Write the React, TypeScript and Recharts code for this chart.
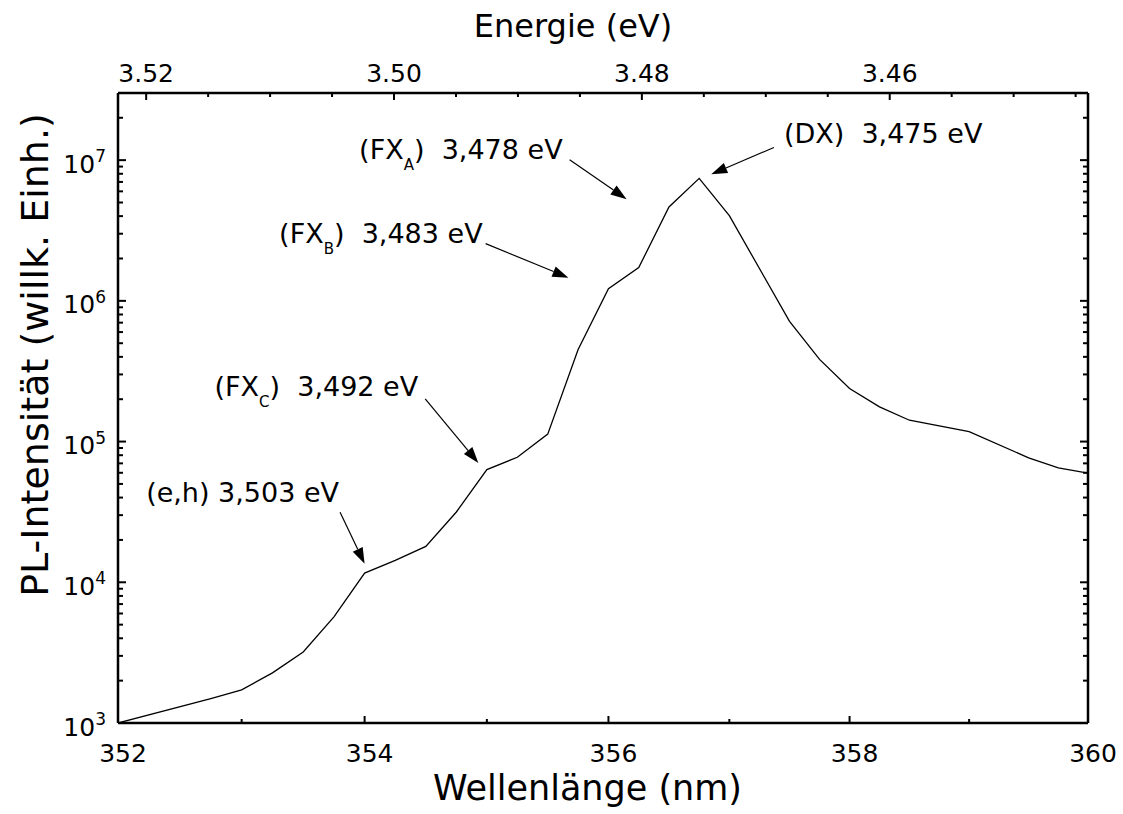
import React from 'react';
import { LineChart, Line, XAxis, YAxis, ReferenceLine } from 'recharts';

// Measured spectrum (wavelength in nm, PL intensity in arb. units)
const wavelengths = [
  352, 352.75, 353, 353.25, 353.5, 353.75, 354, 354.25, 354.5, 354.75,
  355, 355.25, 355.5, 355.75, 356, 356.25, 356.5, 356.75, 357, 357.5,
  357.75, 358, 358.25, 358.5, 359, 359.5, 359.75, 360,
];
const intensities = [
  1000, 1490, 1718, 2270, 3200, 5680, 11630, 14300, 17980, 31600,
  63200, 77300, 113000, 451600, 1221000, 1723000, 4650000, 7420000, 4030000, 715000,
  384000, 238000, 176600, 141800, 117800, 76600, 65000, 59700,
];

// axis ticks
const wavelengthTicks = [352, 353, 354, 355, 356, 357, 358, 359, 360];
const wavelengthLabels = [352, 354, 356, 358, 360];
const energyTicks = [3.445, 3.45, 3.455, 3.46, 3.465, 3.47, 3.475, 3.48, 3.485, 3.49, 3.495, 3.5, 3.505, 3.51, 3.515, 3.52];
const energyLabels = [3.46, 3.48, 3.5, 3.52];
const decades = [1e3, 1e4, 1e5, 1e6, 1e7];
const intensityDomain = [1e3, 3e7];

// peak annotations: tail and tip of each arrow (wavelength, intensity)
const annPrefix = ['(e,h) 3,503 eV', '(FX', '(FX', '(FX', '(DX)  3,475 eV'];
const annSub = ['', 'C', 'B', 'A', ''];
const annSuffix = ['', ')  3,492 eV', ')  3,483 eV', ')  3,478 eV', ''];
const annTailNm = [353.8, 354.495, 354.99, 355.68, 357.37];
const annTailI = [31400, 201400, 2550000, 10050000, 12300000];
const annTipNm = [354.0, 354.93, 355.67, 356.15, 356.85];
const annTipI = [13540, 70500, 1462000, 5280000, 7940000];

const HC = 1239.84;
const toEnergy = (nm: number) => HC / nm;

const FONT = 'DejaVu Sans';

const rows = wavelengths.map((w, i) => ({ energy: toEnergy(w), intensity: intensities[i] }));
const energyDomain = [toEnergy(360), toEnergy(352)];

const yTicks: number[] = [];
decades.forEach((d, i) => {
  yTicks.push(d);
  if (i < decades.length - 1) for (let k = 2; k <= 9; k++) yTicks.push(d * k);
});
yTicks.push(2e7, 3e7);

const isDecade = (v: number) => Math.abs(Math.log10(v) - Math.round(Math.log10(v))) < 1e-9;

const annText = [
  { anchor: 'end', dx: -1, dy: -10 },
  { anchor: 'end', dx: -7, dy: -3 },
  { anchor: 'end', dx: -3, dy: -1 },
  { anchor: 'end', dx: -7, dy: -1 },
  { anchor: 'start', dx: 10, dy: -4 },
];

const BottomTick = (props: any) => {
  const { x, y, payload } = props;
  const nm = Math.round(HC / payload.value);
  const major = wavelengthLabels.includes(nm);
  return (
    <g>
      <line x1={x} y1={y} x2={x} y2={y - (major ? 7 : 4)} stroke="#000" strokeWidth={2} />
      {major && (
        <text x={x + 5} y={y + 39} textAnchor="middle" fontSize={25} fontFamily={FONT} fill="#000">
          {nm}
        </text>
      )}
    </g>
  );
};

const TopTick = (props: any) => {
  const { x, y, payload } = props;
  const v = payload.value;
  const major = energyLabels.some((e) => Math.abs(e - v) < 1e-6);
  return (
    <g>
      <line x1={x} y1={y} x2={x} y2={y + (major ? 7 : 4)} stroke="#000" strokeWidth={2} />
      {major && (
        <text x={x} y={y - 11} textAnchor="middle" fontSize={25} fontFamily={FONT} fill="#000">
          {v.toFixed(2)}
        </text>
      )}
    </g>
  );
};

const LeftTick = (props: any) => {
  const { x, y, payload } = props;
  const v = payload.value;
  const major = isDecade(v);
  return (
    <g>
      <line x1={x} y1={y} x2={x + (major ? 8 : 5)} y2={y} stroke="#000" strokeWidth={2} />
      {major && (
        <text x={x - 12} y={y + 12.5} textAnchor="end" fontSize={25} fontFamily={FONT} fill="#000">
          10
          <tspan dy={-10.5} fontSize={17}>
            {Math.round(Math.log10(v))}
          </tspan>
        </text>
      )}
    </g>
  );
};

const RightTick = (props: any) => {
  const { x, y, payload } = props;
  const major = isDecade(payload.value);
  return <line x1={x} y1={y} x2={x - (major ? 8 : 5)} y2={y} stroke="#000" strokeWidth={2} />;
};

const renderArrow = (p: any, i: number) => {
  const { x1, y1, x2, y2 } = p;
  const ang = Math.atan2(y2 - y1, x2 - x1);
  const len = 16;
  const hw = 5.5;
  const bx = x2 - len * Math.cos(ang);
  const by = y2 - len * Math.sin(ang);
  const px = -Math.sin(ang) * hw;
  const py = Math.cos(ang) * hw;
  const t = annText[i];
  return (
    <g>
      <line x1={x1} y1={y1} x2={bx} y2={by} stroke="#000" strokeWidth={1.2} />
      <polygon points={`${x2},${y2} ${bx + px},${by + py} ${bx - px},${by - py}`} fill="#000" />
      <text
        x={x1 + t.dx}
        y={y1 + t.dy}
        textAnchor={t.anchor}
        fontSize={27}
        fontFamily={FONT}
        fill="#000"
        style={{ whiteSpace: 'pre' }}
      >
        {annPrefix[i]}
        {annSub[i] && (
          <tspan dy={11} fontSize={15}>
            {annSub[i]}
          </tspan>
        )}
        {annSuffix[i] && <tspan dy={annSub[i] ? -11 : 0}>{annSuffix[i]}</tspan>}
      </text>
    </g>
  );
};

const axisStroke = { stroke: '#000', strokeWidth: 2.5 };

export default function App() {
  return (
    <div style={{ position: 'absolute', left: 0, top: 0, background: '#fff' }}>
      <LineChart width={1123} height={814} data={rows} margin={{ top: 0, right: 0, bottom: 0, left: 0 }}>
        <XAxis
          xAxisId="bottom"
          type="number"
          dataKey="energy"
          domain={energyDomain}
          allowDataOverflow
          reversed
          ticks={wavelengthTicks.map(toEnergy)}
          interval={0}
          height={91}
          tickSize={0}
          tickMargin={0}
          tickLine={false}
          axisLine={axisStroke}
          tick={<BottomTick />}
        />
        <XAxis
          xAxisId="top"
          orientation="top"
          type="number"
          dataKey="energy"
          domain={energyDomain}
          allowDataOverflow
          reversed
          ticks={energyTicks}
          interval={0}
          height={93}
          tickSize={0}
          tickMargin={0}
          tickLine={false}
          axisLine={axisStroke}
          tick={<TopTick />}
        />
        <YAxis
          yAxisId="left"
          scale="log"
          type="number"
          domain={intensityDomain}
          allowDataOverflow
          ticks={yTicks}
          interval={0}
          width={118}
          tickSize={0}
          tickMargin={0}
          tickLine={false}
          axisLine={axisStroke}
          tick={<LeftTick />}
        />
        <YAxis
          yAxisId="right"
          orientation="right"
          scale="log"
          type="number"
          domain={intensityDomain}
          allowDataOverflow
          ticks={yTicks}
          interval={0}
          width={35}
          tickSize={0}
          tickMargin={0}
          tickLine={false}
          axisLine={axisStroke}
          tick={<RightTick />}
        />
        <Line
          xAxisId="bottom"
          yAxisId="left"
          type="linear"
          dataKey="intensity"
          stroke="#000"
          strokeWidth={1.3}
          dot={false}
          isAnimationActive={false}
        />
        {annPrefix.map((_, i) => (
          <ReferenceLine
            key={i}
            xAxisId="bottom"
            yAxisId="left"
            ifOverflow="visible"
            segment={[
              { x: toEnergy(annTailNm[i]), y: annTailI[i] },
              { x: toEnergy(annTipNm[i]), y: annTipI[i] },
            ]}
            shape={(p: any) => renderArrow(p, i)}
          />
        ))}
        <text x={573} y={37} textAnchor="middle" fontSize={32} fontFamily={FONT} fill="#000">
          Energie (eV)
        </text>
        <text x={742} y={800} textAnchor="end" fontSize={35} fontFamily={FONT} fill="#000">
          Wellenlänge (nm)
        </text>
        <text
          x={0}
          y={0}
          transform="translate(48, 355) rotate(-90)"
          textAnchor="middle"
          fontSize={38}
          fontFamily={FONT}
          fill="#000"
        >
          PL-Intensität (willk. Einh.)
        </text>
      </LineChart>
    </div>
  );
}
